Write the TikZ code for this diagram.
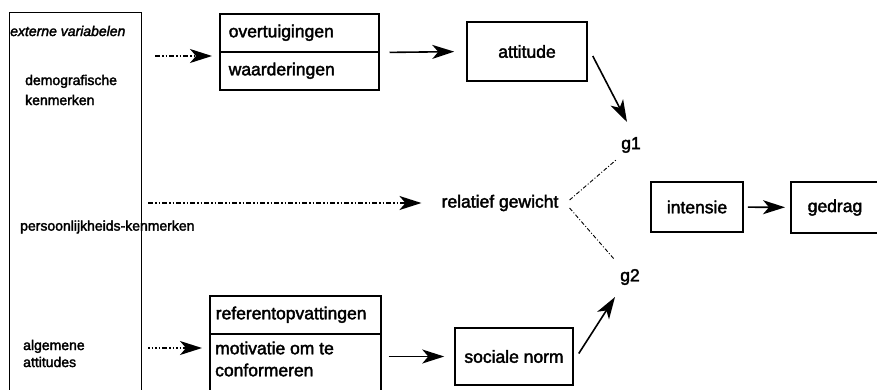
\documentclass[tikz,border=0pt]{standalone}
\usepackage{fontspec}
\setmainfont{Liberation Sans}[FakeBold=2.2]
\usetikzlibrary{arrows.meta,calc}
\begin{document}
\begin{tikzpicture}[x=1pt,y=-1pt,
  box/.style={draw, line width=1.5pt, inner sep=0pt},
  lbl/.style={font=\fontsize{17.5}{21}\selectfont, inner sep=0pt},
  side/.style={font=\fontsize{14}{17}\selectfont, inner sep=0pt, anchor=west, align=left},
  arr/.style={line width=1.6pt, -{Stealth[length=22pt,width=14pt,inset=6pt]}},
  ddot/.style={arr, dash pattern=on 5pt off 2pt on 1.5pt off 2pt on 1.5pt off 2pt},
  dotdash/.style={arr, dash pattern=on 1.5pt off 2pt on 1.5pt off 2pt on 1.5pt off 2pt on 1.5pt off 2pt on 5pt off 2pt},
  weight/.style={line width=0.9pt, dash pattern=on 4pt off 2pt on 1pt off 2pt},
]
\useasboundingbox (0,0) rectangle (877,389);

% external variables column
\node[box, line width=1.1pt, anchor=north west, minimum width=132pt, minimum height=400pt] (ext) at (9,12) {};
\node[side, font=\fontsize{14}{17}\selectfont\itshape] (extT) at (10,31) {externe variabelen};
\node[side, font=\fontsize{14}{20}\selectfont] (demo) at (25,90) {demografische\\kenmerken};
\node[side] (pers) at (20,227) {persoonlijkheids-kenmerken};
\node[side] (alg) at (23,353.5) {algemene\\attitudes};

% attitude branch
\node[box, lbl, anchor=north west, minimum height=38pt, text width=141pt, inner xsep=9pt, align=left] (ov) at (219,13) {overtuigingen};
\node[box, lbl, anchor=north west, minimum height=38pt, text width=141pt, inner xsep=9pt, align=left] (wa) at (219,51) {waarderingen};
\node[box, lbl, minimum width=120pt, minimum height=59pt] (att) at (527,51.5) {attitude};
\node[lbl] (g1) at (631,145) {g1};

% weights
\node[lbl] (rg) at (500,203) {relatief gewicht};
\node[lbl] (g2) at (630,277) {g2};

% intention and behaviour
\node[box, lbl, minimum width=92pt, minimum height=50pt] (int) at (697,207) {intensie};
\node[box, lbl, anchor=west, minimum height=51pt, text width=78pt, inner xsep=17pt, align=left] (ged) at (790,207.5) {gedrag};

% social norm branch
\node[box, lbl, anchor=north west, minimum height=38pt, text width=159pt, inner xsep=6pt, align=left] (ref) at (209,295) {referentopvattingen};
\node[box, anchor=north west, minimum width=171pt, minimum height=80pt] (mo) at (209,333) {};
\node[lbl, anchor=west, align=left, font=\fontsize{17.5}{22}\selectfont] (moT) at (215,359) {motivatie om te\\conformeren};
\node[box, lbl, minimum width=118pt, minimum height=57pt] (sn) at (514,356.5) {sociale norm};

% connectors
\coordinate (s1) at (155,56);
\draw[ddot, shorten >=7pt] (s1) -- (s1 -| ov.west);
\draw[arr, shorten <=10pt, shorten >=12pt] (ov.south east) -- (att.west);
\draw[arr] ($(att.east)+(5,4.5)$) -- ($(g1)+(-4,-23)$);

\coordinate (s2) at (148,203);
\draw[ddot, shorten >=20pt] (s2) -- (rg.west);
\draw[weight] ($(rg.east)+(11,-3)$) -- ($(g1)+(-15,15)$);
\draw[weight] ($(rg.east)+(11,5)$) -- ($(g2)+(-16,-18)$);

\coordinate (s3) at (148,348);
\draw[dotdash, shorten >=7pt] (s3) -- (s3 -| ref.west);
\draw[arr, shorten <=7pt, shorten >=10pt] (mo.east |- sn.west) -- (sn.west);
\draw[arr] ($(sn.east)+(5,-3)$) -- ($(g2)+(-15,20)$);

\draw[arr, shorten <=4pt, shorten >=5pt] (int) -- (ged);
\end{tikzpicture}
\end{document}
